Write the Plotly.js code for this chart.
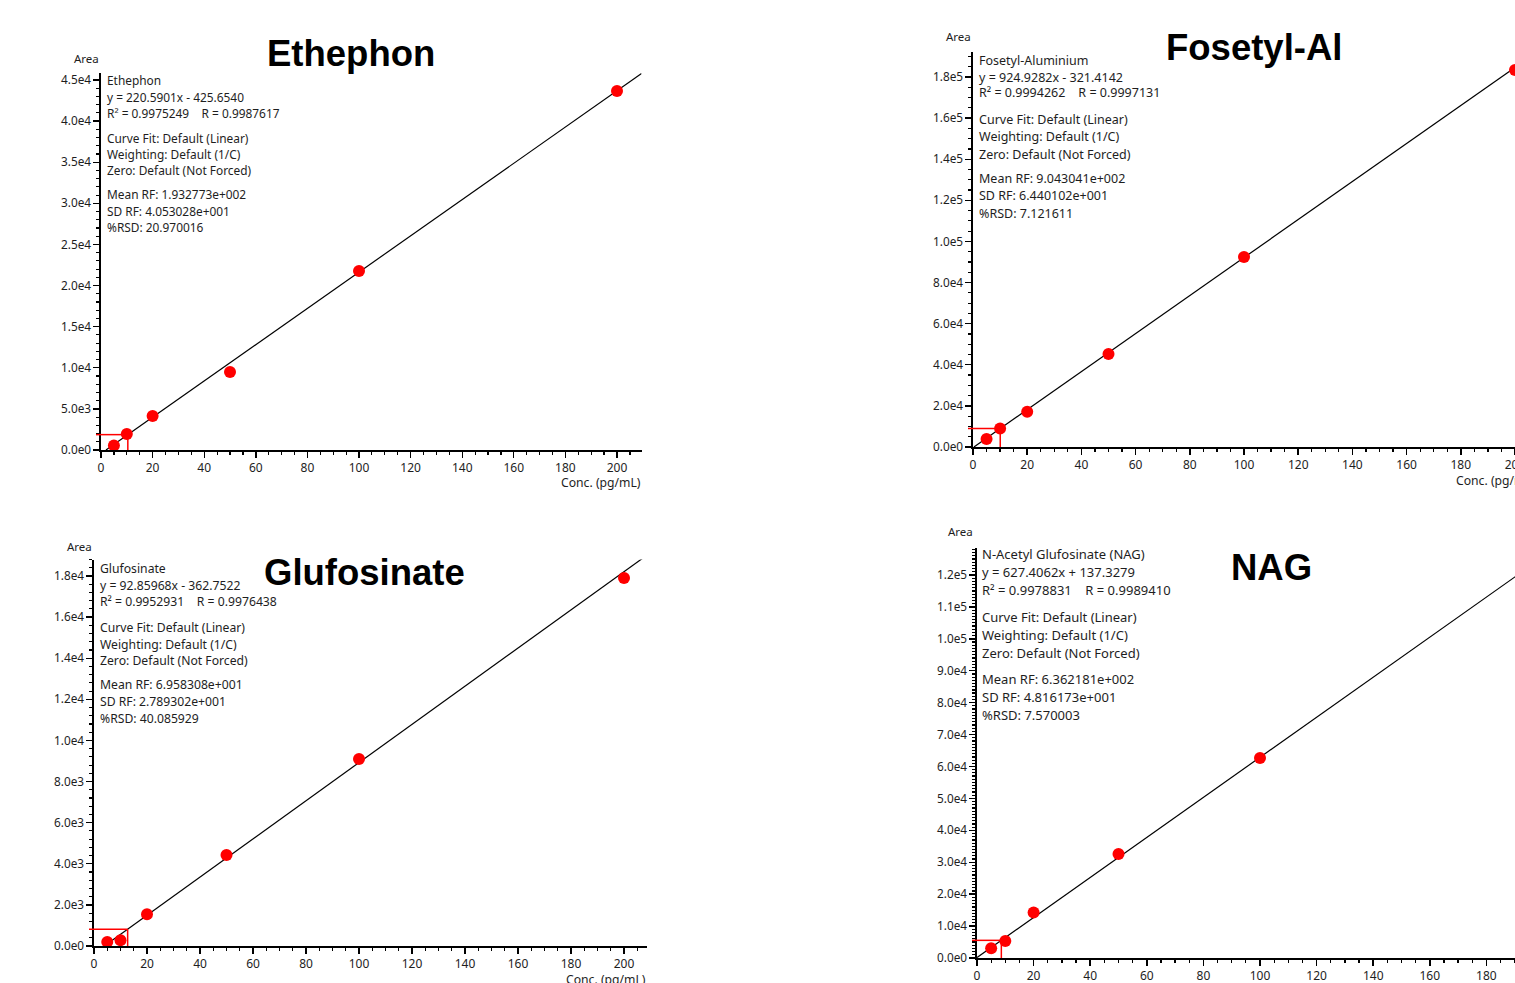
<!DOCTYPE html>
<html>
<head>
<meta charset="utf-8">
<script src="https://cdn.plot.ly/plotly-3.0.1.min.js"></script>
<style>
html,body{margin:0;padding:0;overflow:hidden;background:#fff;width:1515px;height:983px;}
#chart{width:1600px;height:983px;}
</style>
</head>
<body>
<div id="chart"></div>
<script>
// ---------------- DATA ----------------
const conc = [5, 10, 20, 50, 100, 200];
const concTickVals = [0, 20, 40, 60, 80, 100, 120, 140, 160, 180, 200];
const concTickText = ['0', '20', '40', '60', '80', '100', '120', '140', '160', '180', '200'];

const ethephonArea = [560, 1946, 4135, 9486, 21770, 43663];
const fosetylArea = [3900, 9000, 17200, 45243, 92432, 183405];
const glufosinateArea = [195, 280, 1545, 4427, 9097, 17903];
const nagConc = [5, 10, 20, 50, 100];
const nagArea = [3085, 5319, 14255, 32585, 62663];

const ethephonFit = {slope: 220.5901, intercept: -425.6540, lloq: 10.4};
const fosetylFit = {slope: 924.9282, intercept: -321.4142, lloq: 10.05};
const glufosinateFit = {slope: 92.85968, intercept: -362.7522, lloq: 12.7};
const nagFit = {slope: 627.4062, intercept: 137.3279, lloq: 8.6};

const ethTickVals = [0, 5000, 10000, 15000, 20000, 25000, 30000, 35000, 40000, 45000];
const ethTickText = ['0.0e0', '5.0e3', '1.0e4', '1.5e4', '2.0e4', '2.5e4', '3.0e4', '3.5e4', '4.0e4', '4.5e4'];
const fosTickVals = [0, 20000, 40000, 60000, 80000, 100000, 120000, 140000, 160000, 180000];
const fosTickText = ['0.0e0', '2.0e4', '4.0e4', '6.0e4', '8.0e4', '1.0e5', '1.2e5', '1.4e5', '1.6e5', '1.8e5'];
const gluTickVals = [0, 2000, 4000, 6000, 8000, 10000, 12000, 14000, 16000, 18000];
const gluTickText = ['0.0e0', '2.0e3', '4.0e3', '6.0e3', '8.0e3', '1.0e4', '1.2e4', '1.4e4', '1.6e4', '1.8e4'];
const nagTickVals = [0, 10000, 20000, 30000, 40000, 50000, 60000, 70000, 80000, 90000, 100000, 110000, 120000];
const nagTickText = ['0.0e0', '1.0e4', '2.0e4', '3.0e4', '4.0e4', '5.0e4', '6.0e4', '7.0e4', '8.0e4', '9.0e4', '1.0e5', '1.1e5', '1.2e5'];

const NB = '\u00a0';
const ethephonText = ['Ethephon', 'y = 220.5901x - 425.6540', 'R\u00b2 = 0.9975249' + NB.repeat(4) + 'R = 0.9987617',
  'Curve Fit: Default (Linear)', 'Weighting: Default (1/C)', 'Zero: Default (Not Forced)',
  'Mean RF: 1.932773e+002', 'SD RF: 4.053028e+001', '%RSD: 20.970016'];
const fosetylText = ['Fosetyl-Aluminium', 'y = 924.9282x - 321.4142', 'R\u00b2 = 0.9994262' + NB.repeat(4) + 'R = 0.9997131',
  'Curve Fit: Default (Linear)', 'Weighting: Default (1/C)', 'Zero: Default (Not Forced)',
  'Mean RF: 9.043041e+002', 'SD RF: 6.440102e+001', '%RSD: 7.121611'];
const glufosinateText = ['Glufosinate', 'y = 92.85968x - 362.7522', 'R\u00b2 = 0.9952931' + NB.repeat(4) + 'R = 0.9976438',
  'Curve Fit: Default (Linear)', 'Weighting: Default (1/C)', 'Zero: Default (Not Forced)',
  'Mean RF: 6.958308e+001', 'SD RF: 2.789302e+001', '%RSD: 40.085929'];
const nagText = ['N-Acetyl Glufosinate (NAG)', 'y = 627.4062x + 137.3279', 'R\u00b2 = 0.9978831' + NB.repeat(4) + 'R = 0.9989410',
  'Curve Fit: Default (Linear)', 'Weighting: Default (1/C)', 'Zero: Default (Not Forced)',
  'Mean RF: 6.362181e+002', 'SD RF: 4.816173e+001', '%RSD: 7.570003'];

const panelTitles = ['Ethephon', 'Fosetyl-Al', 'Glufosinate', 'NAG'];

// ---------------- LAYOUT GEOMETRY (pixels) ----------------
const W = 1600, H = 983;
const panels = [
  {title: panelTitles[0], cx: conc, cy: ethephonArea, fit: ethephonFit, tv: ethTickVals, tt: ethTickText, minorY: 1000, lines: ethephonText,
   x0: 101, ppu: 2.58, xmax: 209.5, y0: 450, ppv: 370 / 45000, ymax: 45900,
   titleX: 351, titleY: 54, areaX: 86, areaY: 59, textX: 105, textY: [80, 97, 113, 138, 154, 170, 194, 211, 227], fs: 11.9},
  {title: panelTitles[1], cx: conc, cy: fosetylArea, fit: fosetylFit, tv: fosTickVals, tt: fosTickText, minorY: 5000, lines: fosetylText,
   x0: 973, ppu: 2.71, xmax: 208, y0: 447, ppv: 370 / 180000, ymax: 192000,
   titleX: 1254, titleY: 47, areaX: 958, areaY: 37, textX: 977, textY: [60, 77, 93, 120, 137, 154, 179, 196, 213], fs: 12.5},
  {title: panelTitles[2], cx: conc, cy: glufosinateArea, fit: glufosinateFit, tv: gluTickVals, tt: gluTickText, minorY: 400, lines: glufosinateText,
   x0: 94, ppu: 2.65, xmax: 208.7, y0: 946, ppv: 370 / 18000, ymax: 18800,
   titleX: 364, titleY: 572, areaX: 79, areaY: 546, textX: 98, textY: [568, 585, 601, 627, 644, 660, 684, 701, 718], fs: 12.2},
  {title: panelTitles[3], cx: nagConc, cy: nagArea, fit: nagFit, tv: nagTickVals, tt: nagTickText, minorY: 1000, lines: nagText,
   x0: 977, ppu: 2.83, xmax: 208, y0: 958, ppv: 383 / 120000, ymax: 128500,
   titleX: 1271, titleY: 567, areaX: 960, areaY: 531, textX: 980, textY: [554, 572, 590, 617, 635, 653, 679, 697, 715], fs: 13}
];

const FONT = 'Noto Sans, Open Sans, sans-serif';
const TXT = '#1e1e1e';
const px = v => v / W;
const py = v => 1 - v / H;

const traces = [];
const layout = {
  width: W, height: H, margin: {l: 0, r: 0, t: 0, b: 0},
  paper_bgcolor: '#fff', plot_bgcolor: '#fff', showlegend: false,
  annotations: [], shapes: []
};

panels.forEach((p, i) => {
  const n = i === 0 ? '' : String(i + 1);
  const xa = 'x' + n, ya = 'y' + n;
  const xEnd = p.x0 + p.xmax * p.ppu;
  const yTop = p.y0 - p.ymax * p.ppv;

  layout['xaxis' + n] = {
    domain: [px(p.x0), px(xEnd)], anchor: ya, range: [0, p.xmax],
    showline: true, linecolor: '#000', linewidth: 1.6, showgrid: false, zeroline: false,
    ticks: 'outside', ticklen: 6, tickwidth: 1.4, tickcolor: '#000',
    tickmode: 'array', tickvals: concTickVals, ticktext: concTickText,
    tickfont: {family: FONT, size: 12, color: TXT},
    minor: {tickmode: 'linear', tick0: 0, dtick: 5, ticks: 'outside', ticklen: 3.5, tickwidth: 1.2, tickcolor: '#000', showgrid: false},
    fixedrange: true
  };
  layout['yaxis' + n] = {
    domain: [py(p.y0), py(yTop)], anchor: xa, range: [0, p.ymax],
    showline: true, linecolor: '#000', linewidth: 1.6, showgrid: false, zeroline: false,
    ticks: 'outside', ticklen: 6, tickwidth: 1.4, tickcolor: '#000',
    tickmode: 'array', tickvals: p.tv, ticktext: p.tt,
    tickfont: {family: FONT, size: 11.8, color: TXT},
    minor: {tickmode: 'linear', tick0: 0, dtick: p.minorY, ticks: 'outside', ticklen: 3.5, tickwidth: 1.2, tickcolor: '#000', showgrid: false},
    fixedrange: true
  };

  // regression line
  const xs = Math.max(0, -p.fit.intercept / p.fit.slope);
  const lineX = [xs, p.xmax];
  traces.push({
    x: lineX, y: lineX.map(v => p.fit.slope * v + p.fit.intercept),
    xaxis: xa, yaxis: ya, mode: 'lines', line: {color: '#000', width: 1.2}, hoverinfo: 'skip'
  });
  // points
  traces.push({
    x: p.cx, y: p.cy, xaxis: xa, yaxis: ya, mode: 'markers', cliponaxis: false,
    marker: {color: '#ff0000', size: 12, line: {width: 0}}
  });

  // LLOQ crosshair
  const yl = p.fit.slope * p.fit.lloq + p.fit.intercept;
  layout.shapes.push({type: 'line', xref: 'paper', yref: ya, x0: px(p.x0 - 5), x1: px(p.x0 + p.fit.lloq * p.ppu), y0: yl, y1: yl,
    line: {color: '#ff0000', width: 1.5}});
  layout.shapes.push({type: 'line', xref: xa, yref: ya, x0: p.fit.lloq, x1: p.fit.lloq, y0: 0, y1: yl,
    line: {color: '#ff0000', width: 1.5}});

  // panel title
  layout.annotations.push({xref: 'paper', yref: 'paper', x: px(p.titleX), y: py(p.titleY), xanchor: 'center', yanchor: 'middle',
    text: '<b>' + p.title + '</b>', showarrow: false, font: {family: 'Liberation Sans, Arial, sans-serif', size: 36.5, color: '#000'}});
  // axis labels
  layout.annotations.push({xref: 'paper', yref: 'paper', x: px(p.areaX), y: py(p.areaY), xanchor: 'center', yanchor: 'middle',
    text: 'Area', showarrow: false, font: {family: FONT, size: 11.5, color: TXT}});
  layout.annotations.push({xref: 'paper', yref: 'paper', x: px(xEnd + 1), y: py(p.y0 + 33), xanchor: 'right', yanchor: 'middle',
    text: 'Conc. (pg/mL)', showarrow: false, font: {family: FONT, size: 12.2, color: TXT}});
  // info block
  p.lines.forEach((t, k) => {
    layout.annotations.push({xref: 'paper', yref: 'paper', x: px(p.textX), y: py(p.textY[k]), xanchor: 'left', yanchor: 'middle',
      text: t, showarrow: false, font: {family: FONT, size: p.fs, color: TXT}});
  });
});

Plotly.newPlot('chart', traces, layout, {displayModeBar: false, staticPlot: true});
</script>
</body>
</html>
